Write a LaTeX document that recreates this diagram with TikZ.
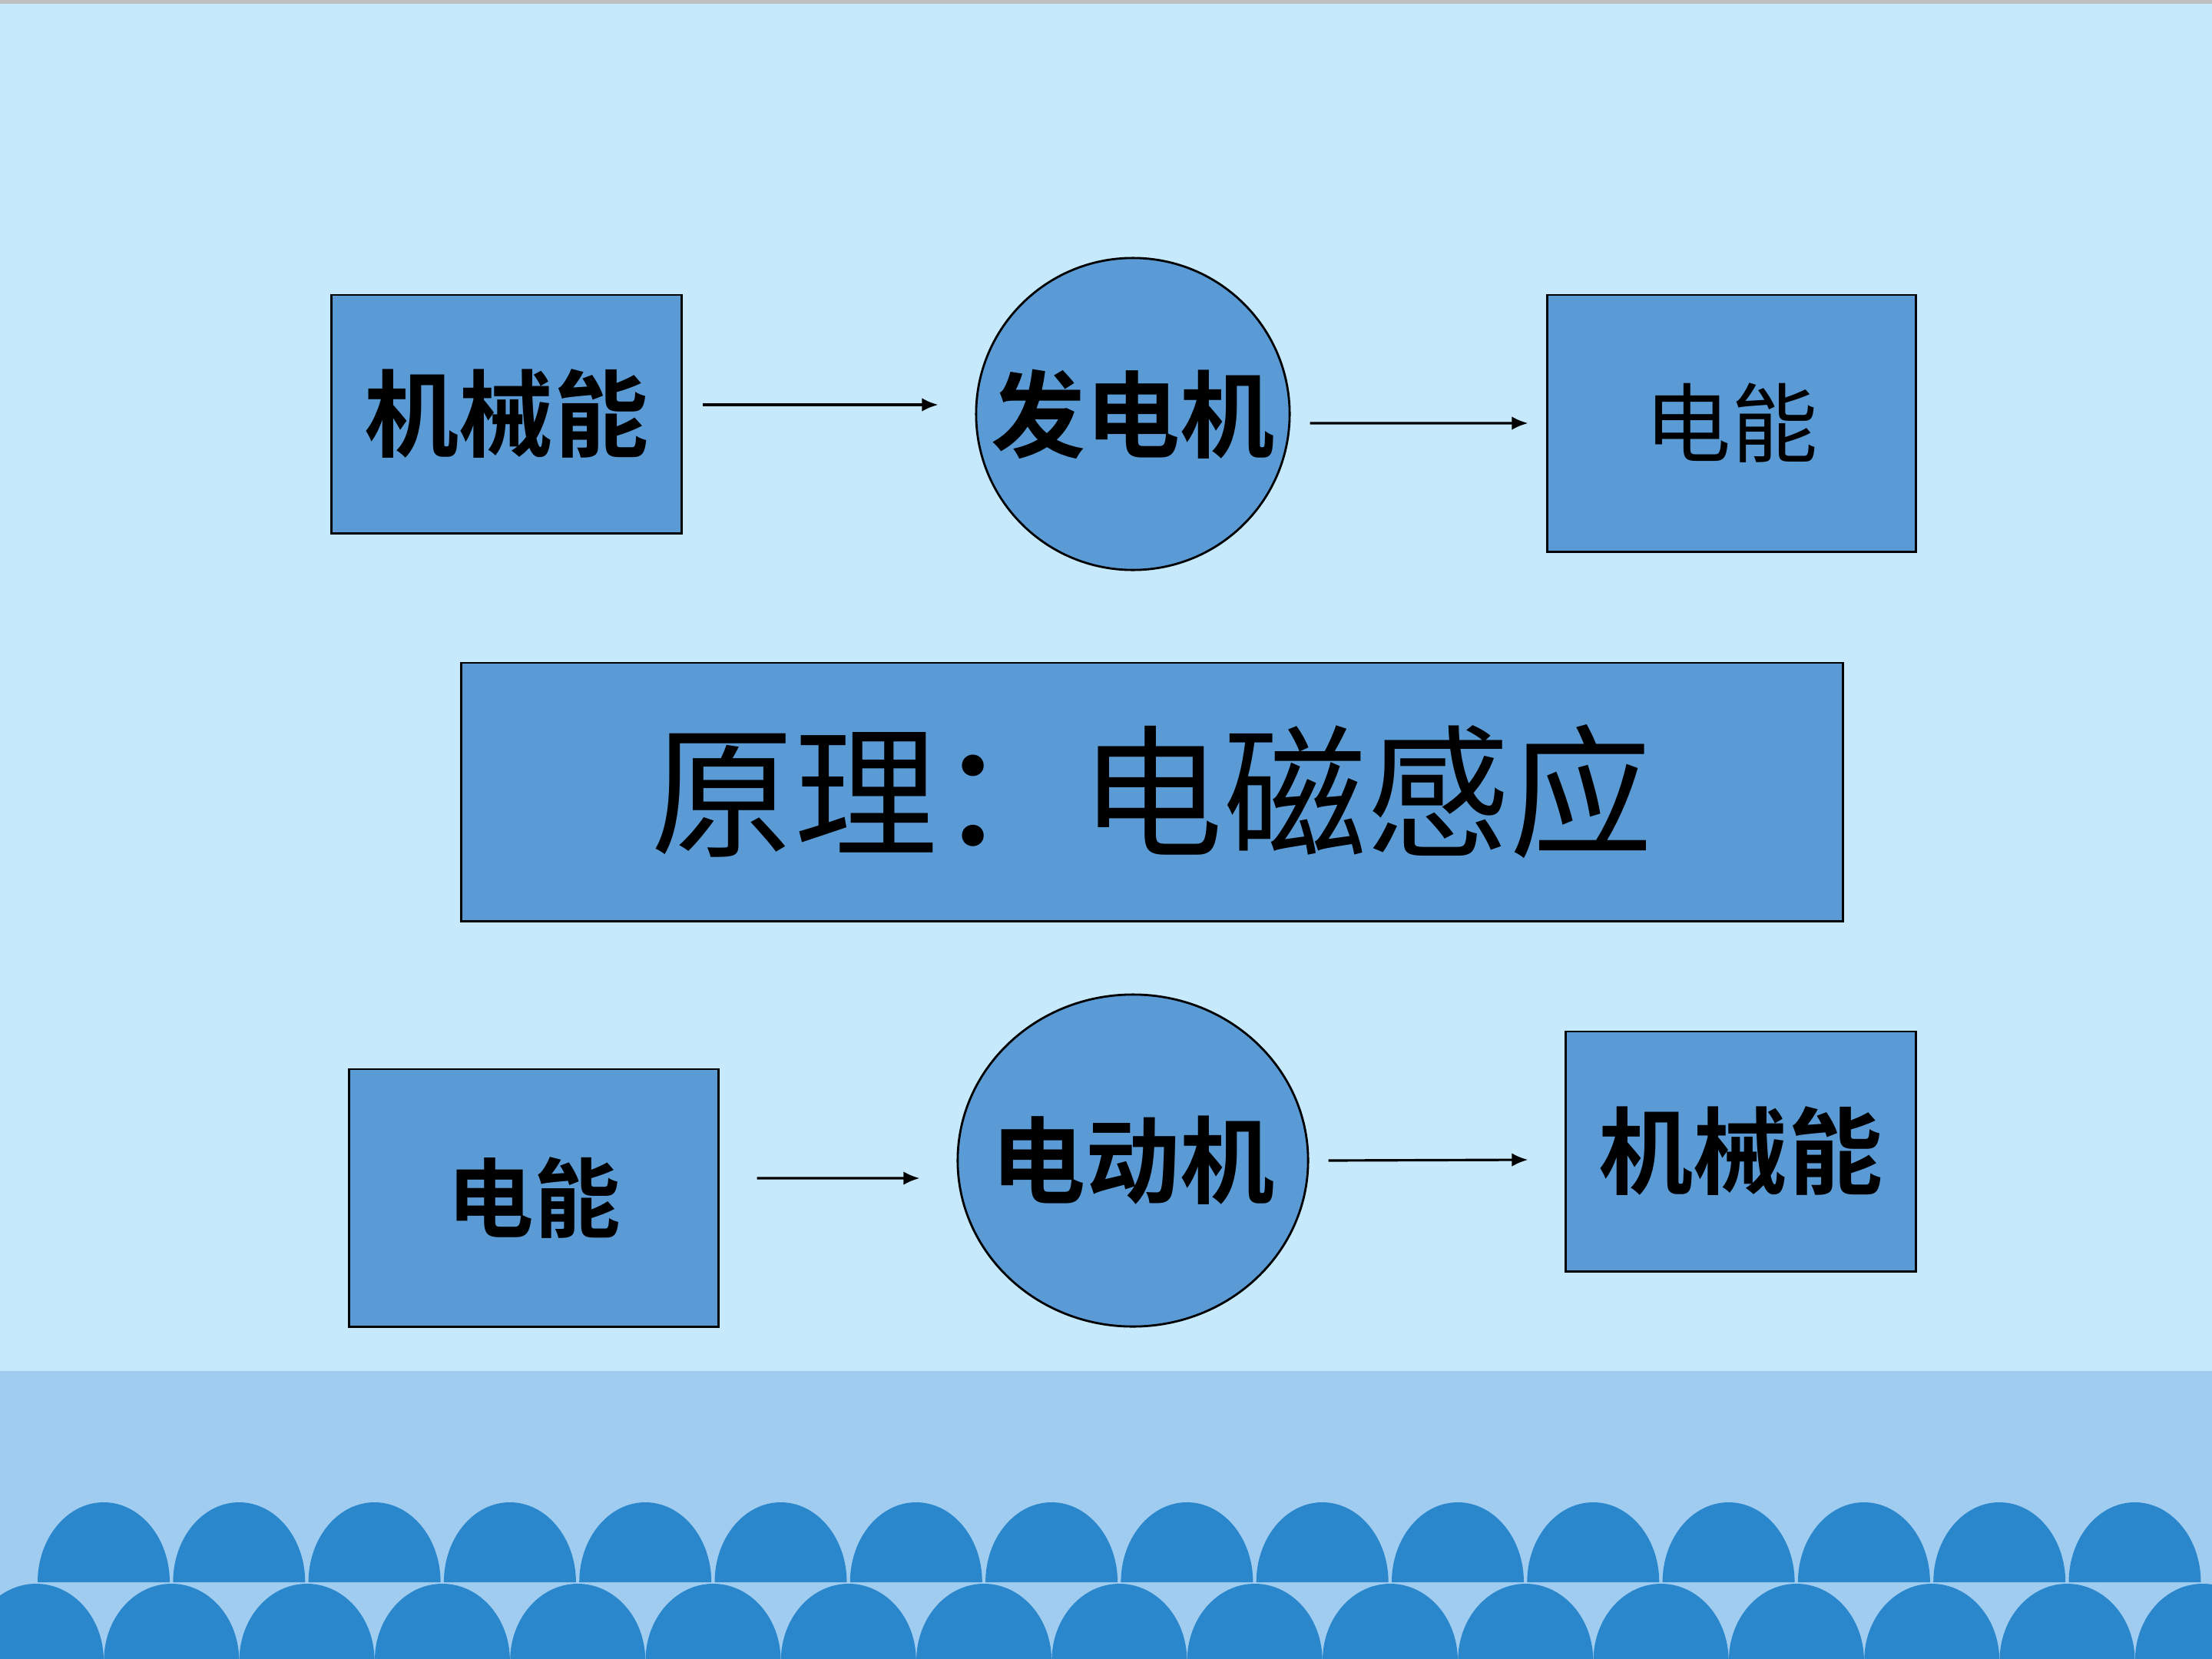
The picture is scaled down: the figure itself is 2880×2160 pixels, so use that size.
\documentclass[tikz,border=0pt]{standalone}
\usepackage{fontspec}
\usepackage{tikz}
\usetikzlibrary{shapes.geometric,arrows.meta,positioning,calc}
\newfontfamily\cjk[BoldFont={* Bold}]{Noto Sans CJK SC}
\definecolor{skybg}{HTML}{C6E9FB}
\definecolor{bandbg}{HTML}{A0CCF0}
\definecolor{archblue}{HTML}{2A87CC}
\definecolor{boxblue}{HTML}{5B9BD5}

\begin{document}
\begin{tikzpicture}[
    x=0.01cm, y=-0.01cm,
    box/.style={rectangle, draw=black, line width=0.8pt, fill=boxblue, inner sep=0pt, text centered, font=\cjk\fontsize{35}{40}\selectfont},
    disc/.style={ellipse, draw=black, line width=0.8pt, fill=boxblue, inner sep=0pt},
    disctext/.style={font=\cjk\bfseries\fontsize{35}{40}\selectfont, inner sep=0pt},
    arrow/.style={-{Latex[length=6pt,width=5pt]}, line width=0.9pt, color=black}
]
\useasboundingbox (0,0) rectangle (2880,2160);

% Background
\fill[skybg] (0,0) rectangle (2880,2160);
\fill[bandbg] (0,1785) rectangle (2880,2160);
\fill[black!25] (0,0) rectangle (2880,5);

% Arches, lower row first
\foreach \i in {0,...,16}
    \fill[archblue] ({47+176.3*\i-88},2162) arc[start angle=180, end angle=0, x radius=88, y radius=-100] -- cycle;
\foreach \i in {0,...,15}
    \fill[archblue] ({135+176.3*\i-86},2060) arc[start angle=180, end angle=0, x radius=86, y radius=-104] -- cycle;

% Generator row
\node[box, minimum width=4.55cm, minimum height=3.10cm, font=\cjk\bfseries\fontsize{35}{40}\selectfont] (mechtop) at (659.5,539) {机械能};
\node[disc, minimum width=4.08cm, minimum height=4.06cm, label={[disctext]center:发电机}] (gen) at (1475,539) {};
\node[box, minimum width=4.79cm, minimum height=3.34cm, font=\cjk\fontsize{32}{38}\selectfont] (electop) at (2254.5,551) {电能};

% Principle
\node[box, minimum width=17.98cm, minimum height=3.36cm, font=\cjk\fontsize{53}{60}\selectfont] (principle) at (1500,1031) {原理：电磁感应};

% Motor row
\node[box, minimum width=4.80cm, minimum height=3.35cm, font=\cjk\bfseries\fontsize{32}{38}\selectfont] (elecbot) at (695,1559.5) {电能};
\node[disc, minimum width=4.56cm, minimum height=4.32cm, label={[disctext]center:电动机}] (motor) at (1475,1511) {};
\node[box, minimum width=4.55cm, minimum height=3.12cm, font=\cjk\bfseries\fontsize{35}{40}\selectfont] (mechbot) at (2266.5,1499) {机械能};

% Arrows
\draw[arrow] ([xshift=0.26cm,yshift=0.12cm]mechtop.east) -- ([xshift=-0.48cm,yshift=0.12cm]gen.west);
\draw[arrow] ([xshift=0.25cm,yshift=-0.12cm]gen.east) -- ([xshift=-0.24cm]electop.west);
\draw[arrow] ([xshift=0.49cm,yshift=0.255cm]elecbot.east) -- ([xshift=-0.48cm,yshift=-0.23cm]motor.west);
\draw[arrow] ([xshift=0.25cm]motor.east) -- ([xshift=-0.48cm,yshift=-0.11cm]mechbot.west);

\end{tikzpicture}
\end{document}
